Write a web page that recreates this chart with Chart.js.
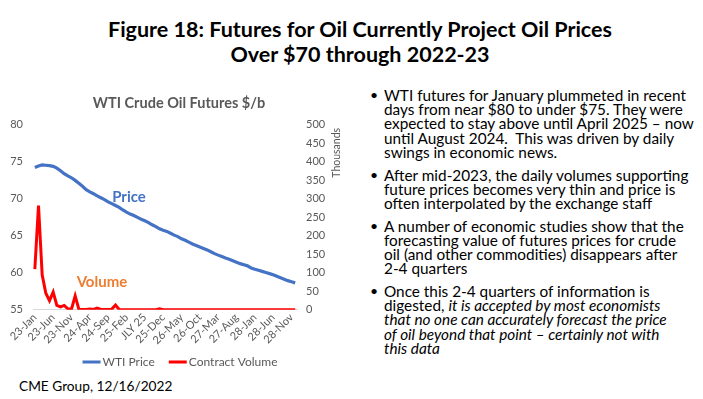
<!DOCTYPE html>
<html>
<head>
<meta charset="utf-8">
<script src="https://cdn.jsdelivr.net/npm/chart.js@4.4.1/dist/chart.umd.min.js"></script>
<style>
  html, body { margin:0; padding:0; background:#fff; }
  body { width:703px; height:399px; position:relative; overflow:hidden; font-family: Lato, "Open Sans", sans-serif; }
  #title { position:absolute; left:0; top:17px; width:720px; text-align:center; font-weight:bold; font-size:21.5px; line-height:25px; color:#000; }
  #chartBox { position:absolute; left:0; top:88px; width:358px; height:287px; }
  #notes { position:absolute; left:368px; top:88px; width:335px; font-size:16px; line-height:14.2px; color:#000; }
  #notes ul { margin:0; padding:0; list-style:none; }
  #notes li { position:relative; padding-left:16px; margin-bottom:8.5px; white-space:nowrap; }
  #notes li::before { content:"\2022"; position:absolute; left:2px; top:0; font-size:14px; }
  #source { position:absolute; left:19px; top:377px; font-size:13.7px; color:#000; }
</style>
</head>
<body>
<div id="title">Figure 18: Futures for Oil Currently Project Oil Prices<br>Over $70 through 2022-23</div>
<div id="chartBox"><canvas id="c"></canvas></div>
<div id="notes"><ul>
<li>WTI futures for January plummeted in recent<br>days from near $80 to under $75. They were<br>expected to stay above until April 2025 – now<br>until August 2024.&nbsp; This was driven by daily<br>swings in economic news.</li>
<li>After mid-2023, the daily volumes supporting<br>future prices becomes very thin and price is<br>often interpolated by the exchange staff</li>
<li>A number of economic studies show that the<br>forecasting value of futures prices for crude<br>oil (and other commodities) disappears after<br>2-4 quarters</li>
<li>Once this 2-4 quarters of information is<br>digested, <i>it is accepted by most economists<br>that no one can accurately forecast the price<br>of oil beyond that point – certainly not with<br>this data</i></li>
</ul></div>
<div id="source">CME Group, 12/16/2022</div>
<script>
const months = [
  "23-Jan","23-Feb","23-Mar","23-Apr","23-May","23-Jun","23-Jul","23-Aug","23-Sep","23-Oct","23-Nov","23-Dec",
  "24-Jan","24-Feb","24-Mar","24-Apr","24-May","24-Jun","24-Jul","24-Aug","24-Sep","24-Oct","24-Nov","24-Dec",
  "25-Jan","25-Feb","25-Mar","25-Apr","25-May","25-Jun","JLY 25","25-Aug","25-Sep","25-Oct","25-Nov","25-Dec",
  "26-Jan","26-Feb","26-Mar","26-Apr","26-May","26-Jun","26-Jul","26-Aug","26-Sep","26-Oct","26-Nov","26-Dec",
  "27-Jan","27-Feb","27-Mar","27-Apr","27-May","27-Jun","27-Jul","27-Aug","27-Sep","27-Oct","27-Nov","27-Dec",
  "28-Jan","28-Feb","28-Mar","28-Apr","28-May","28-Jun","28-Jul","28-Aug","28-Sep","28-Oct","28-Nov","28-Dec"
];
const wtiPrice = [
  74.25,74.45,74.6,74.55,74.5,74.4,74.15,73.8,73.4,73.1,72.85,72.5,
  72.1,71.7,71.25,70.95,70.7,70.4,70.15,69.9,69.6,69.35,69.1,68.85,
  68.5,68.2,67.95,67.75,67.5,67.25,67.05,66.8,66.5,66.25,65.95,65.75,
  65.6,65.35,65.1,64.9,64.6,64.4,64.15,63.9,63.7,63.5,63.3,63.1,
  62.85,62.6,62.4,62.2,62.0,61.85,61.65,61.45,61.25,61.1,60.95,60.65,
  60.5,60.35,60.2,60.05,59.9,59.75,59.55,59.35,59.15,58.95,58.8,58.65
];
const contractVolume = [
  110,282,95,45,25,48,12,8,12,3,2,38,
  2,1,1,2,1,5,1,1,1,2,13,1,
  0.5,0.5,0.3,0.3,0.3,0.3,0.3,0.3,0.3,0.3,3,0.3,
  0.2,0.2,0.2,0.2,0.2,0.2,0.2,0.2,0.2,0.2,0.2,0.2,
  0.2,0.2,0.2,0.2,0.2,0.2,0.2,0.2,0.2,0.2,0.2,0.2,
  0.2,0.2,0.2,0.2,0.2,0.2,0.2,0.2,0.2,0.2,0.2,0.2
];
const priceTicks = [55,60,65,70,75,80];
const volumeTicks = [0,50,100,150,200,250,300,350,400,450,500];

const FONT = "Lato, 'Open Sans', sans-serif";
const GREY = "#595959";

(function fitNotes() {
  const m = document.createElement("canvas").getContext("2d");
  m.font = "16px " + FONT;
  const w = m.measureText("expected to stay above until April 2025 – now").width;
  document.getElementById("notes").style.fontSize = (16 * 311 / w).toFixed(2) + "px";
})();

const extras = {
  id: "extras",
  afterDraw(chart) {
    const ctx = chart.ctx;
    const x = chart.scales.x, y = chart.scales.y, y1 = chart.scales.y1;
    ctx.save();
    // inline series labels
    ctx.font = "bold 15px " + FONT;
    ctx.textBaseline = "middle";
    ctx.textAlign = "left";
    ctx.fillStyle = "#4472C4";
    ctx.fillText("Price", x.getPixelForValue(21.1), y.getPixelForValue(70.2));
    ctx.fillStyle = "#ED7D31";
    ctx.fillText("Volume", x.getPixelForValue(11.4), y.getPixelForValue(58.8));
    // legend from the datasets
    ctx.font = "12px " + FONT;
    const sw = 18, gapIn = 2, gapOut = 14;
    const items = chart.data.datasets.map(d => ({ text: d.label, color: d.borderColor, w: ctx.measureText(d.label).width }));
    const total = items.reduce((s, it) => s + sw + gapIn + it.w, 0) + gapOut * (items.length - 1);
    let lx = chart.width / 2 + 1 - total / 2;
    const ly = chart.height - 13;
    items.forEach(it => {
      ctx.fillStyle = it.color;
      ctx.fillRect(lx, ly - 1.5, sw, 3);
      lx += sw + gapIn;
      ctx.fillStyle = GREY;
      ctx.fillText(it.text, lx, ly);
      lx += it.w + gapOut;
    });
    // display units label
    ctx.translate(337, y1.top + 3);
    ctx.rotate(-Math.PI / 2);
    ctx.textAlign = "right";
    ctx.font = "10.5px " + FONT;
    ctx.fillStyle = GREY;
    ctx.fillText("Thousands", 0, 0);
    ctx.restore();
  }
};

new Chart(document.getElementById("c"), {
  type: "line",
  data: {
    labels: months,
    datasets: [
      { label: "WTI Price", data: wtiPrice, yAxisID: "y", borderColor: "#4472C4", backgroundColor: "#4472C4",
        borderWidth: 3.2, pointRadius: 0, tension: 0 },
      { label: "Contract Volume", data: contractVolume, yAxisID: "y1", borderColor: "#FF0000", backgroundColor: "#FF0000",
        borderWidth: 3, pointRadius: 0, tension: 0 }
    ]
  },
  options: {
    responsive: true,
    maintainAspectRatio: false,
    animation: false,
    layout: { padding: { left: 4, right: 4, top: 0, bottom: 27 } },
    plugins: {
      title: { display: true, text: "WTI Crude Oil Futures $/b", color: GREY,
        font: { family: FONT, size: 14.5, weight: "bold" }, padding: { top: 7, bottom: 12.5 } },
      legend: { display: false },
      tooltip: { enabled: false }
    },
    scales: {
      x: {
        offset: true,
        grid: { display: false, drawTicks: false },
        border: { display: true, color: "#d9d9d9", width: 1 },
        ticks: { color: GREY, font: { family: FONT, size: 11 }, autoSkip: false, maxRotation: 45, minRotation: 45,
          padding: 1,
          callback: function(v, i) { return i % 5 === 0 ? months[i] : ""; } }
      },
      y: {
        position: "left", min: 55, max: 80,
        afterBuildTicks: (s) => { s.ticks = priceTicks.map(v => ({ value: v })); },
        afterFit: (s) => { s.width = 29; },
        grid: { display: false, drawTicks: false }, border: { display: false },
        ticks: { color: GREY, font: { family: FONT, size: 11 }, padding: 10 }
      },
      y1: {
        position: "right", min: 0, max: 500,
        afterBuildTicks: (s) => { s.ticks = volumeTicks.map(v => ({ value: v })); },
        afterFit: (s) => { s.width = 57; },
        grid: { display: false, drawTicks: false }, border: { display: false },
        ticks: { color: GREY, font: { family: FONT, size: 11 }, padding: 9 }
      }
    }
  },
  plugins: [extras]
});
</script>
</body>
</html>
